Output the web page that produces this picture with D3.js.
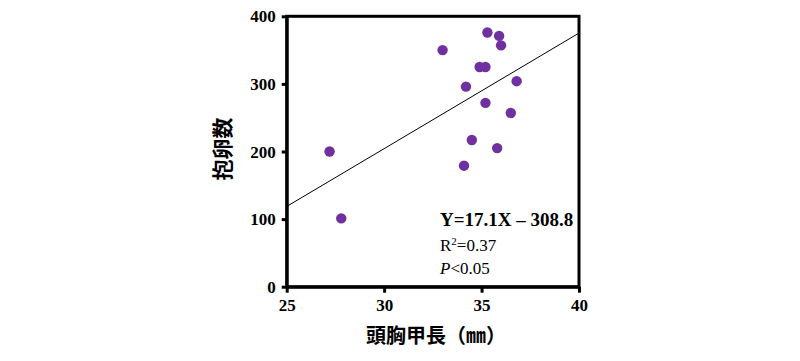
<!DOCTYPE html>
<html><head><meta charset="utf-8">
<script src="https://cdn.jsdelivr.net/npm/d3@7"></script>
<style>body{margin:0;background:#fff}</style>
</head><body>
<svg id="c" width="800" height="361"></svg>
<script>
const carapace = [27.2, 27.8, 33.0, 35.3, 35.9, 36.0, 34.9, 35.2, 36.8, 34.2, 35.2, 36.5, 34.5, 35.8, 34.1];
const eggs =     [200, 101, 350, 376, 371, 357, 325, 325, 304, 296, 272, 257, 217, 205, 179];
const xTicks = [25, 30, 35, 40];
const yTicks = [0, 100, 200, 300, 400];
const slope = 17.1, intercept = -308.8;
const eqText = "Y=17.1X \u2013 308.8";
const r2Text = "0.37";
const pText = "<0.05";
const xTitle = "頭胸甲長（㎜）";
const yTitle = "抱卵数";

const svg = d3.select("#c");
const L = 286.7, R = 579, T = 16.3, B = 286.7;
const x = d3.scaleLinear().domain([25, 40]).range([L, R]);
const y = d3.scaleLinear().domain([0, 400]).range([B, T]);

// regression line
svg.append("line")
  .attr("x1", x(25)).attr("y1", y(slope*25+intercept))
  .attr("x2", x(40)).attr("y2", y(slope*40+intercept))
  .attr("stroke", "#000").attr("stroke-width", 1);

// points
svg.selectAll("circle.p").data(carapace).enter().append("circle")
  .attr("cx", d => x(d)).attr("cy", (d,i) => y(eggs[i])).attr("r", 5.2)
  .attr("fill", "#7030A0");

// frame
svg.append("rect").attr("x", L).attr("y", T).attr("width", R-L).attr("height", B-T)
  .attr("fill", "none").attr("stroke", "#000").attr("stroke-width", 3);

const xAxis = svg.append("g").attr("transform", `translate(0,${B})`)
  .call(d3.axisBottom(x).tickValues(xTicks).tickSize(6).tickSizeOuter(0).tickPadding(6));
const yAxis = svg.append("g").attr("transform", `translate(${L},0)`)
  .call(d3.axisLeft(y).tickValues(yTicks).tickSize(5).tickSizeOuter(0).tickPadding(6));
[xAxis, yAxis].forEach(g => {
  g.select(".domain").attr("stroke-width", 3);
  g.selectAll(".tick line").attr("stroke-width", 3);
  g.selectAll("text").attr("font-family", "'Liberation Serif', 'Times New Roman', serif")
    .attr("font-weight", "bold").attr("font-size", 17).attr("fill", "#000");
});
yAxis.selectAll("text").attr("dy", "0.33em");

// annotations
const ser = "'Liberation Serif', 'Times New Roman', serif";
svg.append("text").attr("x", 440).attr("y", 226).attr("font-family", ser)
  .attr("font-weight", "bold").attr("font-size", 19).text(eqText);
const t2 = svg.append("text").attr("x", 440).attr("y", 251).attr("font-family", ser).attr("font-size", 17);
t2.append("tspan").text("R");
t2.append("tspan").attr("font-size", 11).attr("dy", -6).text("2");
t2.append("tspan").attr("dy", 6).text("=" + r2Text);
const t3 = svg.append("text").attr("x", 440).attr("y", 274).attr("font-family", ser).attr("font-size", 17);
t3.append("tspan").attr("font-style", "italic").text("P");
t3.append("tspan").text(pText);

// titles
const cjk = "'Noto Sans CJK JP', 'Noto Sans CJK SC', sans-serif";
svg.append("text").attr("x", 436).attr("y", 343).attr("text-anchor", "middle")
  .attr("font-family", cjk).attr("font-weight", "bold").attr("font-size", 20).text(xTitle);
svg.append("text").attr("transform", "translate(230,149) rotate(-90)").attr("text-anchor", "middle")
  .attr("font-family", cjk).attr("font-weight", "bold").attr("font-size", 21).text(yTitle);
</script>
</body></html>
